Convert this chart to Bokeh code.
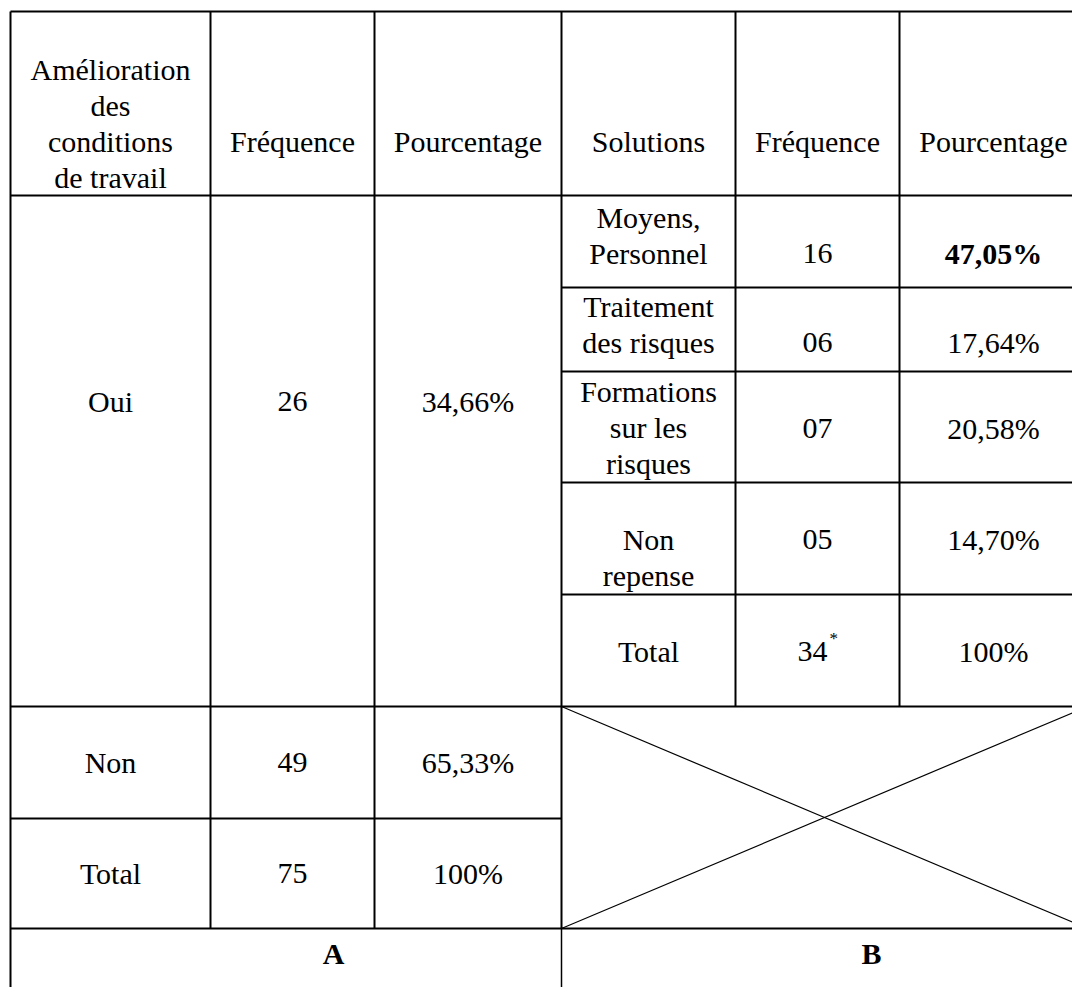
from bokeh.plotting import figure
from bokeh.models import Range1d, ColumnDataSource
from bokeh.core.properties import value
from bokeh.embed import file_html
from bokeh.resources import INLINE

# ---------------- data ----------------
header_A = ["Amélioration\ndes\nconditions\nde travail", "Fréquence", "Pourcentage"]
header_B = ["Solutions", "Fréquence", "Pourcentage"]
answers = ["Oui", "Non", "Total"]
answer_freq = ["26", "49", "75"]
answer_pct = ["34,66%", "65,33%", "100%"]
solutions = ["Moyens,\nPersonnel", "Traitement\ndes risques", "Formations\nsur les\nrisques", "Non\nrepense", "Total"]
solution_freq = ["16", "06", "07", "05", "34"]
solution_pct = ["47,05%", "17,64%", "20,58%", "14,70%", "100%"]
total_note = "*"
panel_labels = ["A", "B"]

# ---------------- layout (page pixel units) ----------------
colA = [10, 210, 374, 561]
colB = [561, 735, 899, 1087]
top, head_bot, bot_rows, bottom = 11, 195, 928, 1000
rowsA = [195, 706, 818, 928]
rowsB = [195, 287, 371, 482, 594, 706]
FONT = "Liberation Serif"
FS = "30px"
STEP = 36

p = figure(width=1072, height=987, x_range=Range1d(0, 1072), y_range=Range1d(987, 0),
           output_backend="svg", toolbar_location=None, min_border=0,
           x_axis_type=None, y_axis_type=None)
p.grid.visible = False
p.outline_line_color = None
p.background_fill_color = "white"
p.border_fill_color = "white"

# grid lines
x0, y0, x1, y1 = [], [], [], []
def seg(a, b, c, d):
    x0.append(a); y0.append(b); x1.append(c); y1.append(d)

for y in [top, head_bot, rowsA[1], bot_rows]:
    seg(colA[0], y, colB[-1], y)
seg(colA[0], rowsA[2], colA[-1], rowsA[2])
for y in rowsB[1:-1]:
    seg(colB[0], y, colB[-1], y)
seg(colA[0], top, colA[0], bottom)
for x in colA[1:]:
    seg(x, top, x, bot_rows)
for x in colB[1:-1]:
    seg(x, top, x, rowsB[-1])
seg(colB[-1], top, colB[-1], bottom)
p.segment(x0=x0, y0=y0, x1=x1, y1=y1, line_color="black", line_width=2)

# A/B divider and cross
p.segment(x0=[colB[0]], y0=[bot_rows], x1=[colB[0]], y1=[bottom], line_color="black", line_width=1.5)
p.segment(x0=[colB[0], colB[0]], y0=[rowsB[-1], bot_rows], x1=[colB[-1], colB[-1]],
          y1=[bot_rows, rowsB[-1]], line_color="black", line_width=1.2)

norm = dict(x=[], y=[], t=[])
bold = dict(x=[], y=[], t=[])
def put(d, x, y, s):
    for i, line in enumerate(s.split("\n")):
        d["x"].append(x); d["y"].append(y + i * STEP); d["t"].append(line)

def cx(cols, i):
    return (cols[i] + cols[i + 1]) / 2

# headers
put(norm, cx(colA, 0), 69, header_A[0])
for i in (1, 2):
    put(norm, cx(colA, i), 141, header_A[i])
for i in range(3):
    put(norm, cx(colB, i), 141, header_B[i])

# left table
left_y = [401, 762, 873]
for k in range(3):
    put(norm, cx(colA, 0), left_y[k], answers[k])
    put(norm, cx(colA, 1), left_y[k], answer_freq[k])
    put(norm, cx(colA, 2), left_y[k], answer_pct[k])

# right table
sol_y = [217, 306, 391, 539, 651]
val_y = [253, 342, 428, 539, 651]
for k in range(5):
    put(norm, cx(colB, 0), sol_y[k], solutions[k])
    fx = cx(colB, 1) - (5 if k == 4 else 0)
    put(norm, fx, val_y[k], solution_freq[k])
    put(bold if k == 0 else norm, cx(colB, 2), val_y[k], solution_pct[k])

put(bold, 333, 953, panel_labels[0])
put(bold, 871, 953, panel_labels[1])

p.text(x="x", y="y", text="t", source=ColumnDataSource(norm), text_font=value(FONT),
       text_font_size=FS, text_align="center", text_baseline="middle", text_color="black")
p.text(x="x", y="y", text="t", source=ColumnDataSource(bold), text_font=value(FONT),
       text_font_size=FS, text_font_style="bold", text_align="center", text_baseline="middle",
       text_color="black")
p.text(x=[829], y=[638], text=[total_note], text_font=value(FONT), text_font_size="17px",
       text_align="left", text_baseline="middle", text_color="black")

open("out.html", "w").write(file_html(p, INLINE))
